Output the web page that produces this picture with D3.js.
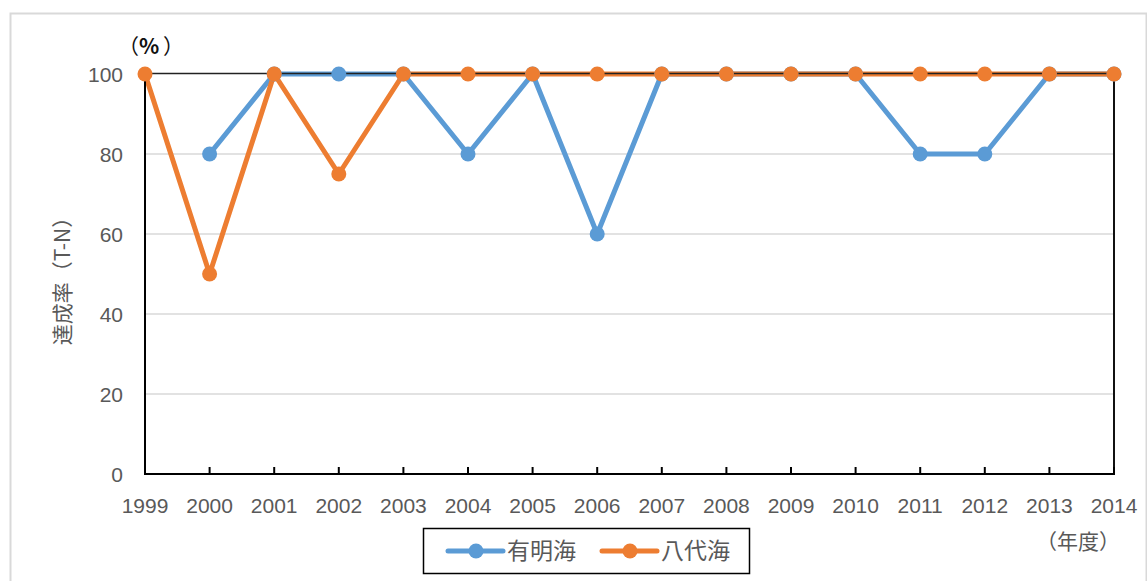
<!DOCTYPE html>
<html><head><meta charset="utf-8">
<script src="https://cdn.jsdelivr.net/npm/d3@7"></script>
<style>body{margin:0;background:#fff}svg{display:block}</style>
</head><body>
<script>
const years = ["1999","2000","2001","2002","2003","2004","2005","2006","2007","2008","2009","2010","2011","2012","2013","2014"];
const ariake = [null,80,100,100,100,80,100,60,100,100,100,100,80,80,100,100];
const yatsushiro = [100,50,100,75,100,100,100,100,100,100,100,100,100,100,100,100];
const yTicks = [0,20,40,60,80,100];
const seriesNames = ["有明海","八代海"];
const colors = ["#5B9BD5","#ED7D31"];

const W=1147,H=581;
const svg=d3.select("body").append("svg").attr("width",W).attr("height",H);
const numFont="'Liberation Sans', Arial, sans-serif";
const jpFont="'Noto Sans CJK JP', sans-serif";

svg.append("rect").attr("x",10.5).attr("y",13.5).attr("width",1136).attr("height",600)
  .attr("fill","#fff").attr("stroke","#d9d9d9").attr("stroke-width",2);

const x=d3.scalePoint().domain(years).range([145,1114]);
const y=d3.scaleLinear().domain([0,100]).range([474,74]);

// gridlines
svg.append("g").selectAll("line").data(yTicks.filter(t=>t>0&&t<100)).join("line")
  .attr("x1",145).attr("x2",1114).attr("y1",d=>y(d)).attr("y2",d=>y(d))
  .attr("stroke","#d9d9d9").attr("stroke-width",1.3);

// y labels
svg.append("g").selectAll("text").data(yTicks).join("text")
  .attr("x",123).attr("y",d=>y(d)+7.5).attr("text-anchor","end")
  .attr("font-family",numFont).attr("font-size",21).attr("fill","#595959").text(d=>d);

// x labels
svg.append("g").selectAll("text").data(years).join("text")
  .attr("x",d=>x(d)).attr("y",513).attr("text-anchor","middle")
  .attr("font-family",numFont).attr("font-size",21).attr("fill","#595959").text(d=>d);

// lines
const data=[ariake,yatsushiro];
const line=d3.line().defined(d=>d.v!=null).x(d=>x(d.k)).y(d=>y(d.v));
data.forEach((s,i)=>{
  svg.append("path").datum(years.map((k,j)=>({k,v:s[j]})))
    .attr("d",line).attr("fill","none").attr("stroke",colors[i]).attr("stroke-width",5)
    .attr("stroke-linejoin","round").attr("stroke-linecap","round");
});

// plot border
svg.append("line").attr("x1",145).attr("x2",1114).attr("y1",73.5).attr("y2",73.5).attr("stroke","#222").attr("stroke-width",1.5);
svg.append("line").attr("x1",1114).attr("x2",1114).attr("y1",74).attr("y2",474).attr("stroke","#111").attr("stroke-width",2);
svg.append("line").attr("x1",145).attr("x2",145).attr("y1",74).attr("y2",475).attr("stroke","#000").attr("stroke-width",2);
svg.append("line").attr("x1",144).attr("x2",1115).attr("y1",474).attr("y2",474).attr("stroke","#000").attr("stroke-width",2);
svg.append("g").selectAll("line").data(years.slice(1)).join("line")
  .attr("x1",d=>x(d)).attr("x2",d=>x(d)).attr("y1",467).attr("y2",474)
  .attr("stroke","#000").attr("stroke-width",2);

// markers
data.forEach((s,i)=>{
  svg.append("g").selectAll("circle").data(years.map((k,j)=>({k,v:s[j]})).filter(d=>d.v!=null)).join("circle")
    .attr("cx",d=>x(d.k)).attr("cy",d=>y(d.v)).attr("r",7.5).attr("fill",colors[i]);
});

// titles
const pct=svg.append("text").attr("y",54).attr("font-family",jpFont).attr("font-size",21).attr("fill","#111");
pct.append("tspan").attr("x",118).text("（");
pct.append("tspan").attr("x",139).attr("font-weight","bold").text("%");
pct.append("tspan").attr("x",163).text("）");
svg.append("text").attr("x",1036).attr("y",549).attr("font-family",jpFont).attr("font-size",21)
  .attr("fill","#595959").text("（年度）");
svg.append("text").attr("transform","translate(70,276) rotate(-90)").attr("text-anchor","middle")
  .attr("font-family",jpFont).attr("font-size",21).attr("fill","#595959").text("達成率（T-N）");

// legend
const lg=svg.append("g");
lg.append("rect").attr("x",423.5).attr("y",528.5).attr("width",326).attr("height",45)
  .attr("fill","#fff").attr("stroke","#000").attr("stroke-width",1.5);
const lx=[448,602];
seriesNames.forEach((n,i)=>{
  lg.append("line").attr("x1",lx[i]).attr("x2",lx[i]+55).attr("y1",551).attr("y2",551)
    .attr("stroke",colors[i]).attr("stroke-width",5).attr("stroke-linecap","round");
  lg.append("circle").attr("cx",lx[i]+28).attr("cy",551).attr("r",7.5).attr("fill",colors[i]);
  lg.append("text").attr("x",lx[i]+59).attr("y",559).attr("font-family",jpFont).attr("font-size",23)
    .attr("fill","#595959").text(n);
});
</script>
</body></html>
